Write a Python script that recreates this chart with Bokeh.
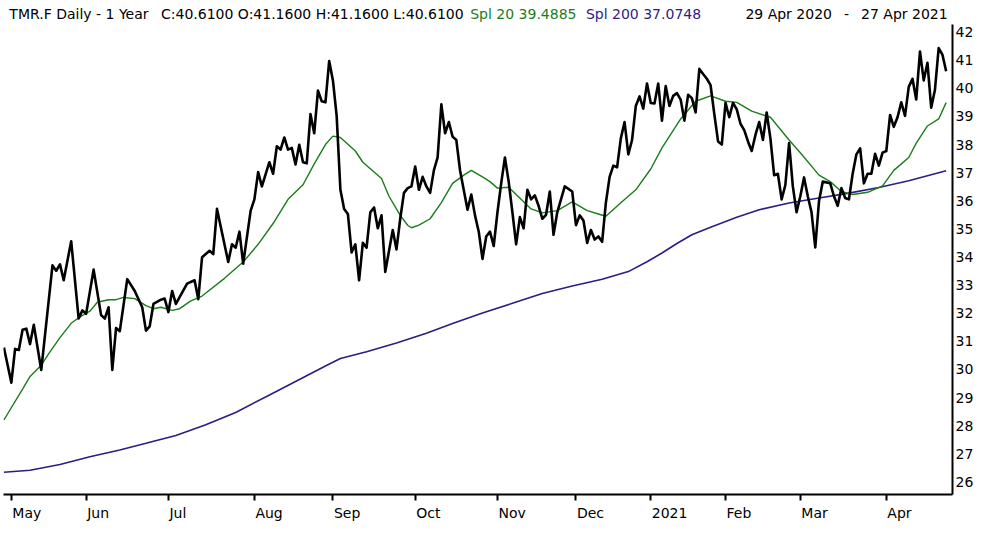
from bokeh.plotting import figure
from bokeh.models import Range1d, FixedTicker
from bokeh.layouts import column
from bokeh.core.properties import value
from bokeh.embed import file_html
from bokeh.resources import INLINE

# ---- data (session index = trading day since 29 Apr 2020) ----
price_session = [0, 2, 3, 4, 5, 6, 7, 8, 10, 13, 14, 15, 16, 18, 20, 21, 22, 24, 26, 27,
                 28, 29, 30, 31, 33, 35, 37, 38, 39, 40, 42, 43, 44, 45, 46, 49, 51, 52, 53, 55,
                 56, 57, 60, 61, 62, 63, 64, 66, 67, 68, 69, 71, 72, 73, 74, 75, 76, 77, 78, 79,
                 80, 81, 82, 83, 84, 85, 86, 87, 88, 89, 90, 91, 92, 93, 94, 95, 96, 97, 98, 99,
                 100, 101, 102, 104, 105, 106, 107, 108, 109, 110, 111, 112, 113, 114, 115, 116, 117, 118, 119, 120,
                 121, 122, 124, 125, 126, 127, 128, 129, 130, 131, 132, 133, 134, 135, 136, 137, 138, 139, 140, 141,
                 142, 143, 144, 145, 146, 147, 148, 149, 150, 152, 153, 154, 155, 156, 157, 158, 159, 160, 161, 162,
                 163, 164, 165, 166, 167, 168, 169, 170, 171, 172, 173, 174, 175, 176, 177, 178, 179, 180, 181, 182,
                 183, 184, 185, 186, 187, 188, 189, 190, 191, 192, 193, 194, 195, 196, 197, 198, 199, 200, 201, 202,
                 203, 204, 205, 206, 207, 208, 209, 210, 211, 212, 213, 214, 215, 216, 217, 218, 219, 221, 222, 223,
                 224, 225, 226, 227, 228, 229, 230, 231, 232, 233, 234, 235, 236, 237, 238, 239, 240, 241, 242, 243,
                 244, 245, 246, 247, 248, 249, 250, 251, 252]
price_close = [30.78, 29.53, 30.73, 30.69, 31.41, 31.45, 30.90, 31.59, 29.98, 33.70, 33.51, 33.74, 33.17, 34.56, 31.81, 32.10, 31.98, 33.55, 31.93, 31.81,
               32.21, 29.98, 31.47, 31.36, 33.21, 32.79, 32.21, 31.38, 31.53, 32.33, 32.48, 32.52, 32.04, 32.79, 32.33, 33.05, 33.17, 32.50, 33.99, 34.22,
               34.10, 35.71, 33.82, 34.45, 34.33, 34.90, 33.76, 35.65, 36.05, 37.02, 36.51, 37.37, 36.96, 37.94, 37.82, 38.25, 37.82, 37.88, 37.29, 37.99,
               37.37, 37.33, 39.08, 38.40, 39.92, 39.54, 39.50, 40.97, 40.28, 39.02, 36.39, 35.71, 35.53, 34.16, 34.45, 33.17, 34.50, 34.33, 35.59, 35.76,
               35.02, 35.48, 33.47, 34.96, 34.27, 35.36, 36.28, 36.45, 36.51, 37.22, 36.39, 36.85, 36.51, 36.28, 37.08, 37.54, 39.43, 38.40, 38.80, 38.28,
               38.16, 37.08, 35.68, 36.22, 35.48, 34.90, 33.93, 34.73, 34.90, 34.39, 35.59, 36.62, 37.54, 36.68, 35.59, 34.45, 35.42, 35.02, 36.39, 36.05,
               36.19, 35.82, 35.36, 35.50, 36.33, 34.79, 35.59, 36.05, 36.51, 36.33, 35.13, 35.48, 35.30, 34.50, 34.96, 34.62, 34.73, 34.54, 35.93, 36.85,
               37.25, 37.19, 38.22, 38.80, 37.65, 38.16, 39.37, 39.71, 39.28, 40.17, 39.48, 39.46, 40.17, 38.85, 40.08, 39.37, 39.73, 39.83, 39.60, 38.85,
               39.77, 39.65, 39.14, 40.69, 40.51, 40.34, 40.11, 39.08, 38.11, 38.00, 39.48, 38.97, 39.48, 39.25, 38.74, 38.51, 38.11, 37.77, 38.34, 38.80,
               38.16, 39.14, 38.22, 36.91, 36.96, 36.05, 36.56, 38.05, 36.51, 35.59, 36.16, 36.83, 36.16, 35.59, 34.34, 35.99, 36.68, 36.62, 36.16, 35.82,
               36.45, 36.10, 36.05, 36.96, 37.65, 37.86, 36.62, 36.96, 36.96, 37.67, 37.25, 37.71, 37.77, 39.05, 38.63, 38.97, 39.50, 39.02, 40.05, 40.34,
               39.60, 41.31, 40.28, 40.91, 39.31, 39.94, 41.43, 41.20, 40.61]

spl20_session = [0, 5, 7, 10, 12, 15, 18, 20, 23, 25, 28, 30, 32, 35, 38, 40, 42, 45, 47, 50,
                 53, 59, 64, 68, 72, 76, 80, 83, 86, 88, 90, 94, 96, 99, 101, 103, 106, 108, 109, 111,
                 114, 117, 120, 123, 125, 128, 130, 132, 135, 137, 141, 144, 148, 152, 156, 159, 161, 165, 169, 173,
                 176, 181, 185, 189, 193, 196, 200, 205, 210, 213, 218, 221, 224, 227, 231, 235, 238, 242, 244, 247,
                 250, 252]
spl20_value = [28.20, 29.30, 29.75, 30.15, 30.56, 31.13, 31.64, 31.84, 32.07, 32.39, 32.48, 32.48, 32.56, 32.52, 32.27, 32.16, 32.21, 32.10, 32.16, 32.44,
               32.61, 33.24, 33.82, 34.45, 35.19, 36.05, 36.57, 37.31, 38.00, 38.30, 38.25, 37.77, 37.37, 37.02, 36.79, 36.16, 35.48, 35.13, 35.04, 35.13,
               35.36, 35.93, 36.62, 36.91, 37.08, 36.85, 36.68, 36.45, 36.48, 36.22, 35.71, 35.57, 35.65, 35.96, 35.65, 35.53, 35.45, 35.93, 36.39, 37.13,
               37.88, 38.91, 39.54, 39.73, 39.54, 39.50, 39.19, 38.97, 38.16, 37.71, 36.91, 36.68, 36.33, 36.22, 36.30, 36.53, 37.08, 37.54, 38.05, 38.66,
               38.91, 39.49]

spl200_session = [0, 7, 15, 23, 31, 38, 46, 54, 62, 70, 78, 86, 90, 97, 105, 113, 120, 128, 136, 144,
                  152, 160, 167, 172, 176, 180, 184, 189, 196, 202, 210, 218, 226, 234, 242, 252]
spl200_value = [26.34, 26.41, 26.62, 26.89, 27.13, 27.37, 27.65, 28.03, 28.47, 29.02, 29.57, 30.12, 30.39, 30.63, 30.94, 31.29, 31.63, 32.01, 32.35, 32.70,
                32.97, 33.21, 33.48, 33.83, 34.14, 34.48, 34.79, 35.06, 35.41, 35.68, 35.92, 36.10, 36.27, 36.47, 36.71, 37.07]

month_session = [2, 22, 44, 67, 88, 110, 132, 153, 173, 193, 213, 236]
month_label = ["May", "Jun", "Jul", "Aug", "Sep", "Oct", "Nov", "Dec", "2021", "Feb", "Mar", "Apr"]
y_ticks = list(range(26, 43))

header_text = ["TMR.F Daily -  1 Year", "C:40.6100 O:41.1600 H:41.1600 L:40.6100",
               "Spl 20 39.4885", "Spl 200 37.0748", "29 Apr 2020", "-", "27 Apr 2021"]

FONT = "DejaVu Sans"
FS = "14px"
GREEN = "#1a7d1a"
NAVY = "#2e1c82"
W = 976
LEFT = 3
RIGHT = 24
HEADER_H = 24
FOOTER_H = 24

x_range = Range1d(-0.1, 253.7)

# ---- header strip (pixel coordinates) ----
hdr = figure(width=W, height=HEADER_H, x_range=Range1d(0, W), y_range=Range1d(0, HEADER_H),
             x_axis_location=None, y_axis_location=None, title=None,
             output_backend="svg", toolbar_location=None, min_border=0)
hdr.grid.visible = False
hdr.outline_line_color = None
hdr_x = [6, 162, 480, 599, 763, 867, 971]
hdr_color = ["black", "black", GREEN, NAVY, "black", "black", "black"]
hdr_align = ["left", "left", "left", "left", "left", "center", "right"]
for x, t, c, a in zip(hdr_x, header_text, hdr_color, hdr_align):
    hdr.text(x=[x], y=[11], text=[t], text_color=c, text_align=a, text_baseline="middle",
             text_font=value(FONT), text_font_size=FS)

# ---- main chart ----
p = figure(width=W, height=526 - HEADER_H - FOOTER_H, x_range=x_range, y_range=Range1d(25.55, 42.27),
           y_axis_location="right", title=None, output_backend="svg", toolbar_location=None,
           min_border_left=LEFT, min_border_right=RIGHT, min_border_top=0, min_border_bottom=8)
p.outline_line_color = None
p.grid.visible = False
p.background_fill_color = "white"
p.border_fill_color = "white"

p.line(spl200_session, spl200_value, line_color=NAVY, line_width=1.6)
p.line(spl20_session, spl20_value, line_color=GREEN, line_width=1.4)
p.line(price_session, price_close, line_color="black", line_width=2.6, line_join="round")

xa = p.xaxis[0]
xa.ticker = FixedTicker(ticks=month_session)
xa.axis_line_width = 2
xa.axis_line_color = "black"
xa.major_tick_line_width = 2
xa.major_tick_in = 0
xa.major_tick_out = 6
xa.minor_tick_line_color = None
xa.major_label_overrides = {s: "" for s in month_session}
xa.major_label_standoff = 0
xa.major_label_text_font_size = "1px"

ya = p.yaxis[0]
ya.ticker = FixedTicker(ticks=y_ticks)
ya.axis_line_width = 2
ya.axis_line_color = "black"
ya.major_tick_line_color = None
ya.minor_tick_line_color = None
ya.major_tick_in = 0
ya.major_tick_out = 0
ya.major_label_standoff = 3
ya.major_label_text_font = FONT
ya.major_label_text_font_size = FS
ya.major_label_text_color = "black"

# ---- month names strip, sharing the chart's x range ----
ftr = figure(width=W, height=FOOTER_H, x_range=x_range, y_range=Range1d(0, FOOTER_H),
             x_axis_location=None, y_axis_location=None, title=None,
             output_backend="svg", toolbar_location=None,
             min_border_left=LEFT, min_border_right=RIGHT, min_border_top=0, min_border_bottom=0)
ftr.grid.visible = False
ftr.outline_line_color = None
ftr.text(x=month_session, y=[14] * len(month_session), text=month_label, x_offset=1,
         text_align="left", text_baseline="middle", text_color="black",
         text_font=value(FONT), text_font_size=FS)

open("out.html", "w").write(file_html(column(hdr, p, ftr, spacing=0), INLINE))
